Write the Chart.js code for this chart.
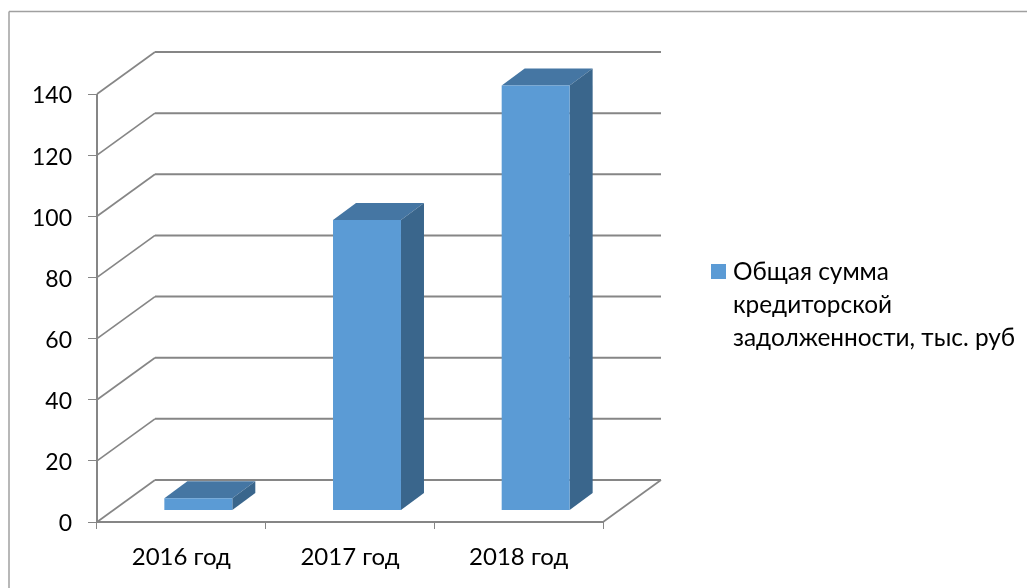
<!DOCTYPE html>
<html lang="ru">
<head>
    <meta charset="UTF-8">
    <title>Кредиторская задолженность</title>
    <script src="https://cdn.jsdelivr.net/npm/chart.js"></script>
    <style>
        html, body { margin: 0; background: #ffffff; }
        canvas { display: block; }
    </style>
</head>
<body>
    <canvas id="debtChart" width="1027" height="588"></canvas>
    <script>
        const years = ['2016 год', '2017 год', '2018 год'];
        const debtValues = [4, 95, 139];
        const seriesName = 'Общая сумма кредиторской задолженности, тыс. руб';
        const legendLines = ['Общая сумма', 'кредиторской', 'задолженности, тыс. руб'];

        const FONT = 'Lato, "Open Sans", sans-serif';
        const AXIS_GREY = '#868686';

        // Box depth of the floor and of the columns, in pixels
        const floorDepth = { x: 58, y: -42 };
        const barDepth = { x: 23, y: -17 };
        const barShift = { x: 17, y: -11.5 };

        function line(ctx, x1, y1, x2, y2, width) {
            ctx.lineWidth = width;
            ctx.beginPath();
            ctx.moveTo(x1, y1);
            ctx.lineTo(x2, y2);
            ctx.stroke();
        }

        function polygon(ctx, pts, color) {
            ctx.fillStyle = color;
            ctx.beginPath();
            pts.forEach((p, i) => i ? ctx.lineTo(p[0], p[1]) : ctx.moveTo(p[0], p[1]));
            ctx.closePath();
            ctx.fill();
        }

        // Outer frame, side wall, back wall and floor of the 3D box
        const wallsPlugin = {
            id: 'walls',
            beforeDatasetsDraw(chart) {
                const { ctx, scales: { x, y } } = chart;
                ctx.save();
                ctx.strokeStyle = '#a0a0a0';
                line(ctx, 9, 11.5, 1027, 11.5, 1.5);
                line(ctx, 9, 11.5, 9, 588, 1.5);

                ctx.strokeStyle = AXIS_GREY;
                y.ticks.forEach(tick => {
                    const py = y.getPixelForValue(tick.value);
                    const backY = py + floorDepth.y;
                    line(ctx, x.left, py, x.left + floorDepth.x, backY, 1.7);
                    line(ctx, x.left + floorDepth.x, backY, x.right + floorDepth.x, backY, 2);
                });
                line(ctx, x.right, y.bottom, x.right + floorDepth.x, y.bottom + floorDepth.y, 1.7);
                ctx.restore();

                // Column sides go under the front faces that Chart.js draws next
                ctx.save();
                chart.getDatasetMeta(0).data.forEach(bar => {
                    const left = bar.x - bar.width / 2 + barShift.x;
                    const right = bar.x + bar.width / 2 + barShift.x;
                    const top = bar.y + barShift.y;
                    const base = bar.base + barShift.y;
                    const dx = barDepth.x;
                    const dy = barDepth.y;
                    polygon(ctx, [[left, top], [left + dx, top + dy], [right + dx, top + dy], [right, top]], '#4576a3');
                    polygon(ctx, [[right, top], [right + dx, top + dy], [right + dx, base + dy], [right, base]], '#3a668c');
                });
                ctx.restore();

                ctx.save();
                ctx.translate(barShift.x, barShift.y);
            },
            afterDatasetsDraw(chart) {
                chart.ctx.restore();

                // Front edges of the box sit on top of the floor diagonals
                const { ctx, scales: { x, y } } = chart;
                ctx.save();
                ctx.strokeStyle = AXIS_GREY;
                line(ctx, x.left, y.top, x.left, y.bottom, 2);
                line(ctx, x.left, y.bottom, x.right, y.bottom, 2);
                ctx.restore();
            }
        };

        // Legend with a wrapped label and the swatch on the first line
        const legendPlugin = {
            id: 'wrappedLegend',
            afterDraw(chart) {
                const { ctx } = chart;
                ctx.save();
                ctx.fillStyle = '#5b9bd5';
                ctx.fillRect(711, 264, 15, 15);
                ctx.fillStyle = '#000000';
                ctx.font = '24.4px ' + FONT;
                ctx.textBaseline = 'middle';
                legendLines.forEach((text, i) => ctx.fillText(text, 733, 272 + i * 33));
                ctx.restore();
            }
        };

        new Chart(document.getElementById('debtChart'), {
            type: 'bar',
            data: {
                labels: years,
                datasets: [{
                    label: seriesName,
                    data: debtValues,
                    backgroundColor: '#5b9bd5',
                    barPercentage: 0.403,
                    categoryPercentage: 1,
                    clip: false
                }]
            },
            options: {
                responsive: false,
                animation: false,
                layout: { padding: { top: 94, right: 424, left: 0, bottom: 0 } },
                plugins: { legend: { display: false }, tooltip: { enabled: false } },
                scales: {
                    x: {
                        afterFit(scale) { scale.height = 66; },
                        border: { display: false },
                        grid: { drawOnChartArea: false, color: AXIS_GREY, tickLength: 7 },
                        ticks: { color: '#000000', font: { family: FONT, size: 24 }, padding: 14, maxRotation: 0 }
                    },
                    y: {
                        min: 0,
                        max: 140,
                        afterFit(scale) { scale.width = 97; },
                        border: { display: false },
                        grid: { drawOnChartArea: false, color: AXIS_GREY, tickLength: 9 },
                        ticks: { stepSize: 20, color: '#000000', font: { family: FONT, size: 23 }, padding: 16, labelOffset: 2 }
                    }
                }
            },
            plugins: [wallsPlugin, legendPlugin]
        });
    </script>
</body>
</html>
